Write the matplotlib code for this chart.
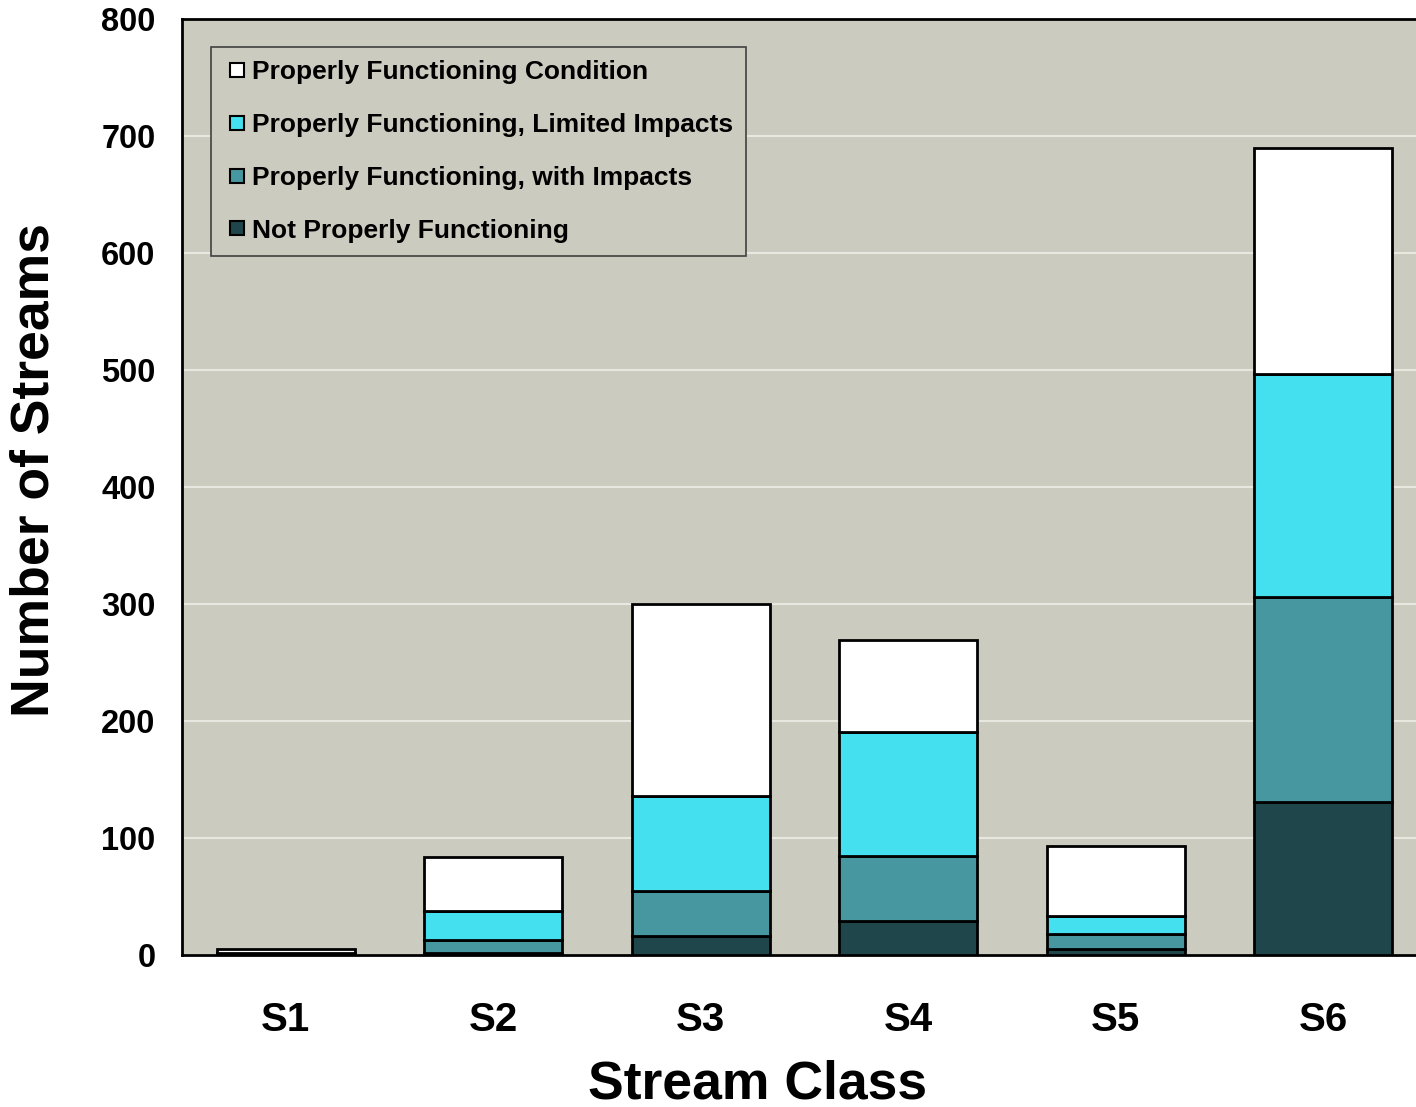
import matplotlib.pyplot as plt
from matplotlib.lines import Line2D
import numpy as np

plt.rcParams['font.family'] = ['Liberation Sans', 'DejaVu Sans']
plt.rcParams['font.weight'] = 'bold'

classes = ["S1", "S2", "S3", "S4", "S5", "S6"]
not_pf = [2, 2, 16, 29, 5, 131]
pf_impacts = [0, 11, 39, 56, 13, 175]
pf_limited = [0, 25, 81, 106, 15, 191]
pf_condition = [3, 46, 164, 78, 60, 193]

series = [
    ("Not Properly Functioning", not_pf, "#1f474b"),
    ("Properly Functioning, with Impacts", pf_impacts, "#46979f"),
    ("Properly Functioning, Limited Impacts", pf_limited, "#45e0f0"),
    ("Properly Functioning Condition", pf_condition, "#ffffff"),
]

fig = plt.figure(figsize=(14.16, 11.07), dpi=100)
ax = fig.add_axes([0.1285, 0.1373, 0.8793, 0.8455])
ax.set_facecolor("#cccbc0")

x = np.arange(len(classes))
bottom = np.zeros(len(classes))
for name, vals, col in series:
    ax.bar(x, vals, 0.665, bottom=bottom, color=col, edgecolor="black",
           linewidth=2, label=name, zorder=3)
    bottom += np.array(vals)

ax.set_xlim(-0.5, 5.5)
ax.set_ylim(0, 800)
ax.set_yticks(range(0, 801, 100))
ax.set_xticks(x)
ax.set_xticklabels(classes, fontsize=29, fontweight='bold')
ax.tick_params(axis='y', labelsize=23.5, length=0, pad=19)
ax.tick_params(axis='x', length=0, pad=33)
for lab in ax.get_yticklabels():
    lab.set_fontweight('bold')
ax.grid(axis='y', color="#e8e8e0", linewidth=1.5, zorder=0)
ax.set_axisbelow(True)
for s in ax.spines.values():
    s.set_linewidth(2)

ax.set_xlabel("Stream Class", fontsize=38.5, fontweight='bold')
ax.xaxis.set_label_coords(0.4627, -0.112)
ax.set_ylabel("Number of Streams", fontsize=38.5, fontweight='bold')
ax.yaxis.set_label_coords(-0.098, 0.518)

# square markers for the legend
handles = [Line2D([], [], linestyle='none', marker='s', markersize=10,
                  markerfacecolor=col, markeredgecolor='black',
                  markeredgewidth=1.5) for _, _, col in series][::-1]
labels = [s[0] for s in series][::-1]
leg = ax.legend(handles, labels, loc='upper left',
                bbox_to_anchor=(0.0233, 0.970), borderaxespad=0, fontsize=19,
                fancybox=False, frameon=True, facecolor="#cccbc0",
                edgecolor="#404040", handlelength=1.0, handletextpad=0.05,
                labelspacing=1.09, borderpad=0.5, framealpha=1)
leg.get_frame().set_linewidth(1.2)

fig.savefig("out.png", dpi=100)
